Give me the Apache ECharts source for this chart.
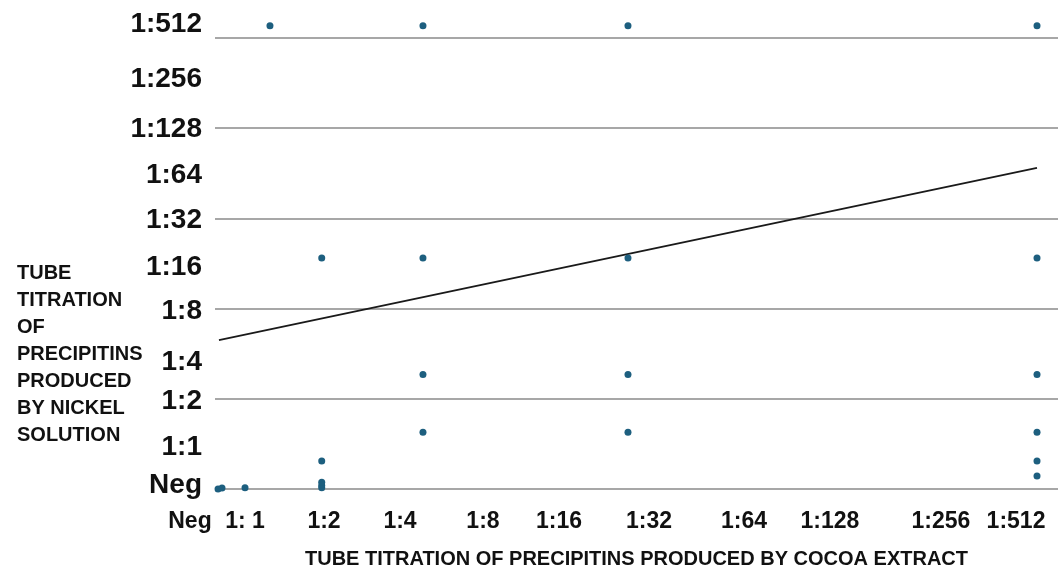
<!DOCTYPE html>
<html>
<head>
<meta charset="utf-8">
<script src="https://cdn.jsdelivr.net/npm/echarts@6/dist/echarts.min.js"></script>
<style>
html,body{margin:0;padding:0;background:#fff;}
#chart{width:1058px;height:569px;}
</style>
</head>
<body>
<div id="chart"></div>
<script>
// Tick labels (axis value -> label text)
const xTickLabels = ['Neg', '1: 1', '1:2', '1:4', '1:8', '1:16', '1:32', '1:64', '1:128', '1:256', '1:512'];
const xTickValues = [-2.97, 3.56, 12.93, 21.95, 31.79, 40.81, 51.48, 62.75, 72.95, 86.12, 95.02];
const yTickLabels = ['Neg', '1:1', '1:2', '1:4', '1:8', '1:16', '1:32', '1:64', '1:128', '1:256', '1:512'];
const yTickValues = [0.08, 0.93, 1.94, 2.81, 3.94, 4.92, 5.95, 6.95, 7.97, 9.08, 10.30];

// Observations: cocoa extract titre position (x) and nickel solution titre position (y)
const cocoaX  = [0.36, 0.83, 3.56, 12.66, 12.66, 12.66, 12.66, 12.66, 6.52, 24.67, 24.67, 24.67, 24.67, 48.99, 48.99, 48.99, 48.99, 97.51, 97.51, 97.51, 97.51, 97.51, 97.51];
const nickelY = [0.00, 0.02, 0.03, 0.03, 0.08, 0.15, 0.62, 5.12, 10.27, 10.27, 5.12, 2.54, 1.26, 10.27, 5.12, 2.54, 1.26, 10.27, 5.12, 2.54, 1.26, 0.62, 0.29];

// Trend line end points
const trendX = [0.47, 97.51];
const trendY = [3.30, 7.12];

const FONT = 'Liberation Sans, Arial, sans-serif';
const points = cocoaX.map((x, i) => [x, nickelY[i]]);
const trend = trendX.map((x, i) => [x, trendY[i]]);

function labelFor(values, labels, v) {
  let best = 0, d = Infinity;
  values.forEach((t, i) => { const dd = Math.abs(t - v); if (dd < d) { d = dd; best = i; } });
  return labels[best];
}

const chart = echarts.init(document.getElementById('chart'), null, {renderer: 'canvas'});
chart.setOption({
  backgroundColor: '#ffffff',
  animation: false,
  title: {
    text: 'TUBE\nTITRATION\nOF\nPRECIPITINS\nPRODUCED\nBY NICKEL\nSOLUTION',
    left: 12,
    top: 255,
    textStyle: {fontFamily: FONT, fontWeight: 'bold', fontSize: 20, lineHeight: 27, color: '#111'}
  },
  grid: [
    {left: 215, right: 0, top: 38, bottom: 80, outerBoundsMode: 'none', containLabel: false},
    {left: 150, right: 0, top: 20, bottom: 80, outerBoundsMode: 'none', containLabel: false}
  ],
  xAxis: [
    {
      type: 'value', gridIndex: 0, min: 0, max: 100,
      axisLine: {show: false}, axisTick: {show: false}, axisLabel: {show: false}, splitLine: {show: false},
      name: 'TUBE TITRATION OF PRECIPITINS PRODUCED BY COCOA EXTRACT',
      nameLocation: 'middle', nameGap: 60,
      nameTextStyle: {fontFamily: FONT, fontWeight: 'bold', fontSize: 20, color: '#111'}
    },
    {
      type: 'value', gridIndex: 1, min: -7.71, max: 100,
      axisLine: {show: false}, axisTick: {show: false}, splitLine: {show: false},
      axisLabel: {
        customValues: xTickValues, margin: 21,
        fontFamily: FONT, fontWeight: 'bold', fontSize: 23, color: '#111',
        formatter: v => labelFor(xTickValues, xTickLabels, v)
      }
    }
  ],
  yAxis: [
    {
      type: 'value', gridIndex: 0, min: 0, max: 10, interval: 2,
      axisLine: {show: false}, axisTick: {show: false}, axisLabel: {show: false},
      splitLine: {show: true, lineStyle: {color: '#8a8a8a', width: 1.6}}
    },
    {
      type: 'value', gridIndex: 1, min: 0, max: 10.399, offset: -65,
      axisLine: {show: false}, axisTick: {show: false}, splitLine: {show: false},
      axisLabel: {
        customValues: yTickValues, margin: 13,
        fontFamily: FONT, fontWeight: 'bold', fontSize: 28, color: '#111',
        formatter: v => labelFor(yTickValues, yTickLabels, v)
      }
    }
  ],
  series: [
    {
      type: 'line', xAxisIndex: 0, yAxisIndex: 0, data: trend,
      symbol: 'none', lineStyle: {color: '#1a1a1a', width: 1.8}, z: 3
    },
    {
      type: 'scatter', xAxisIndex: 0, yAxisIndex: 0, data: points, clip: false,
      symbolSize: 7, itemStyle: {color: '#1d5f7f', opacity: 1}, z: 4
    }
  ]
});
</script>
</body>
</html>
